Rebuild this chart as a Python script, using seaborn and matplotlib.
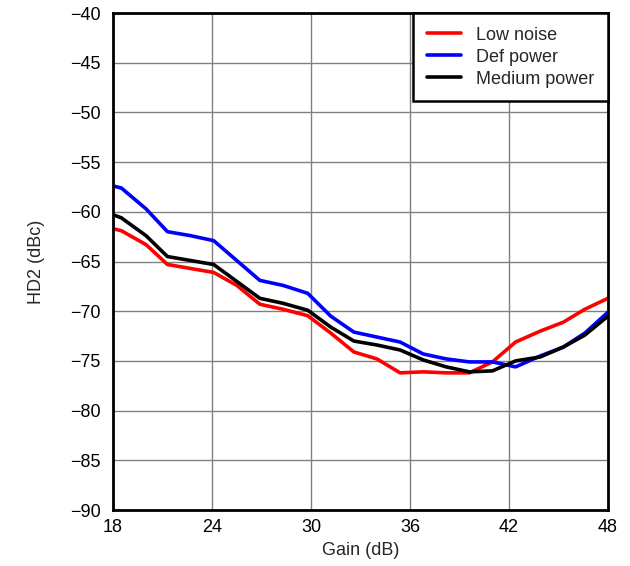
import matplotlib
matplotlib.use("Agg")
import matplotlib.pyplot as plt
import seaborn as sns
import pandas as pd

gain = [18, 18.5, 20, 21.3, 22.7, 24.1, 25.5, 26.9, 28.3, 29.8, 31.2, 32.6,
        34.0, 35.4, 36.8, 38.2, 39.6, 41.0, 42.4, 43.9, 45.3, 46.6, 48]
low_noise = [-61.7, -61.9, -63.3, -65.3, -65.7, -66.1, -67.4, -69.3, -69.8, -70.45,
             -72.2, -74.1, -74.8, -76.2, -76.1, -76.2, -76.2, -75.1, -73.1, -72.0,
             -71.1, -69.8, -68.7]
def_power = [-57.4, -57.6, -59.7, -62.0, -62.4, -62.9, -64.9, -66.9, -67.4, -68.2,
             -70.5, -72.1, -72.6, -73.1, -74.3, -74.8, -75.1, -75.1, -75.6, -74.5,
             -73.6, -72.2, -70.1]
medium_power = [-60.3, -60.6, -62.4, -64.5, -64.9, -65.3, -67.0, -68.7, -69.2, -69.9,
                -71.6, -73.0, -73.4, -73.9, -74.9, -75.6, -76.1, -76.0, -75.0, -74.6,
                -73.6, -72.4, -70.5]
series_names = ["Low noise", "Def power", "Medium power"]
colors = ["#ff0000", "#0000ff", "#000000"]
x_ticks = [18, 24, 30, 36, 42, 48]
y_ticks = [-90, -85, -80, -75, -70, -65, -60, -55, -50, -45, -40]

sns.set_style("white")
plt.rcParams["font.family"] = ["Liberation Sans", "DejaVu Sans"]
plt.rcParams["axes.unicode_minus"] = True

df = pd.concat([
    pd.DataFrame({"Gain": gain, "HD2": vals, "Mode": name})
    for name, vals in zip(series_names, [low_noise, def_power, medium_power])
])

fig = plt.figure(figsize=(6.3, 5.66), dpi=100)
ax = fig.add_axes([0.1794, 0.0989, 0.7856, 0.8781])

sns.lineplot(data=df, x="Gain", y="HD2", hue="Mode", hue_order=series_names,
             palette=colors, linewidth=2.6, ax=ax, sort=False, estimator=None)

ax.set_xlim(18, 48)
ax.set_ylim(-90, -40)
ax.set_xticks(x_ticks)
ax.set_yticks(y_ticks)
ax.set_yticklabels([f"\u2212{abs(v)}" for v in y_ticks])
ax.grid(True, color="#808080", linewidth=1.0)
ax.tick_params(axis="y", length=0, labelsize=13, pad=9, colors="black")
ax.tick_params(axis="x", length=0, labelsize=13, pad=6.5, colors="black")
for s in ax.spines.values():
    s.set_color("black")
    s.set_linewidth(2.0)
ax.set_xlabel("Gain (dB)", fontsize=13, labelpad=4)
ax.set_ylabel("HD2 (dBc)", fontsize=13, labelpad=18)

leg = ax.legend(loc="upper right", fontsize=13, frameon=True, fancybox=False,
                edgecolor="black", framealpha=1, borderaxespad=0,
                handlelength=1.9, handletextpad=0.85, labelspacing=0.28,
                borderpad=0.75)
leg.get_frame().set_linewidth(1.8)
for line in leg.get_lines():
    line.set_linewidth(2.6)

fig.savefig("out.png", dpi=100)
